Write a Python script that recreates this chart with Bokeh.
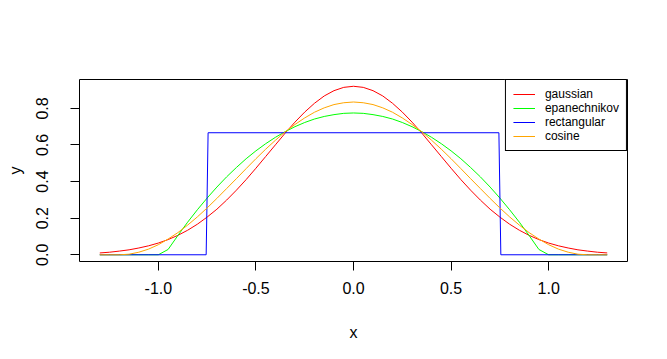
from bokeh.plotting import figure
from bokeh.models import Range1d, FixedTicker, PrintfTickFormatter, Legend, LegendItem
from bokeh.embed import file_html
from bokeh.resources import INLINE

# ---- data ----
x_grid = [-1.3, -1.25, -1.2, -1.15, -1.1, -1.05, -1.0, -0.95, -0.9, -0.85, -0.8, -0.75,
          -0.7, -0.65, -0.6, -0.55, -0.5, -0.45, -0.4, -0.35, -0.3, -0.25, -0.2, -0.15,
          -0.1, -0.05, 0.0, 0.05, 0.1, 0.15, 0.2, 0.25, 0.3, 0.35, 0.4, 0.45, 0.5, 0.55,
          0.6, 0.65, 0.7, 0.75, 0.8, 0.85, 0.9, 0.95, 1.0, 1.05, 1.1, 1.15, 1.2, 1.25, 1.3]

gaussian = [0.010, 0.014, 0.020, 0.027, 0.037, 0.049, 0.064, 0.083, 0.106, 0.134, 0.167, 0.206,
            0.249, 0.299, 0.353, 0.411, 0.473, 0.537, 0.601, 0.665, 0.725, 0.780, 0.828, 0.868,
            0.897, 0.915, 0.921, 0.915, 0.897, 0.868, 0.828, 0.780, 0.725, 0.665, 0.601, 0.537,
            0.473, 0.411, 0.353, 0.299, 0.249, 0.206, 0.167, 0.134, 0.106, 0.083, 0.064, 0.049,
            0.037, 0.027, 0.020, 0.014, 0.010]

epanechnikov = [0.0, 0.0, 0.0, 0.0, 0.0, 0.0, 0.0, 0.029, 0.105, 0.178, 0.246, 0.310,
                0.370, 0.426, 0.477, 0.525, 0.568, 0.607, 0.642, 0.673, 0.700, 0.723, 0.742, 0.756,
                0.766, 0.773, 0.775, 0.773, 0.766, 0.756, 0.742, 0.723, 0.700, 0.673, 0.642, 0.607,
                0.568, 0.525, 0.477, 0.426, 0.370, 0.310, 0.246, 0.178, 0.105, 0.029, 0.0, 0.0,
                0.0, 0.0, 0.0, 0.0, 0.0]

cosine = [0.0, 0.0, 0.0, 0.003, 0.014, 0.031, 0.055, 0.086, 0.121, 0.162, 0.207, 0.256,
          0.308, 0.362, 0.416, 0.471, 0.525, 0.577, 0.626, 0.672, 0.712, 0.748, 0.779, 0.803,
          0.821, 0.831, 0.835, 0.831, 0.821, 0.803, 0.779, 0.748, 0.712, 0.672, 0.626, 0.577,
          0.525, 0.471, 0.416, 0.362, 0.308, 0.256, 0.207, 0.162, 0.121, 0.086, 0.055, 0.031,
          0.014, 0.003, 0.0, 0.0, 0.0]

rect_x = [-1.3, -0.755, -0.745, 0.745, 0.755, 1.3]
rectangular = [0.0, 0.0, 0.667, 0.667, 0.0, 0.0]

series_names = ["gaussian", "epanechnikov", "rectangular", "cosine"]
series_colors = ["#FF0000", "#00FF00", "#0000FF", "#FFA500"]

x_ticks = [-1.0, -0.5, 0.0, 0.5, 1.0]
y_ticks = [0.0, 0.2, 0.4, 0.6, 0.8]

FONT = "Liberation Sans"

p = figure(width=651, height=343, output_backend="svg", toolbar_location=None,
           x_range=Range1d(-1.404, 1.404), y_range=Range1d(-0.0368, 0.958),
           min_border_left=79, min_border_right=24, min_border_top=79, min_border_bottom=81)
p.background_fill_color = "white"
p.border_fill_color = "white"
p.outline_line_color = "black"
p.outline_line_width = 1
p.grid.visible = False

r_g = p.line(x_grid, gaussian, line_color=series_colors[0], line_width=1)
r_e = p.line(x_grid, epanechnikov, line_color=series_colors[1], line_width=1)
r_r = p.line(rect_x, rectangular, line_color=series_colors[2], line_width=1)
r_c = p.line(x_grid, cosine, line_color=series_colors[3], line_width=1)

for ax, ticks in ((p.xaxis[0], x_ticks), (p.yaxis[0], y_ticks)):
    ax.ticker = FixedTicker(ticks=ticks)
    ax.formatter = PrintfTickFormatter(format="%.1f")
    ax.bounds = (ticks[0], ticks[-1])
    ax.axis_line_color = "black"
    ax.major_tick_in = 0
    ax.major_tick_out = 9
    ax.minor_tick_line_color = None
    ax.major_label_text_font = FONT
    ax.major_label_text_font_size = "16px"
    ax.major_label_text_color = "black"
    ax.axis_label_text_font = FONT
    ax.axis_label_text_font_size = "16px"
    ax.axis_label_text_font_style = "normal"
    ax.axis_label_text_color = "black"

p.xaxis.axis_label = "x"
p.yaxis.axis_label = "y"
p.xaxis.major_label_standoff = 11
p.xaxis.axis_label_standoff = 27
p.yaxis.major_label_orientation = "parallel"
p.yaxis.major_label_standoff = 22
p.yaxis.axis_label_standoff = 10

legend = Legend(items=[LegendItem(label=n, renderers=[r]) for n, r in
                       zip(series_names, [r_g, r_e, r_r, r_c])],
                location="top_right", margin=0, padding=7, spacing=0,
                glyph_width=22, glyph_height=14, label_height=14, label_standoff=10,
                label_text_font=FONT, label_text_font_size="12px", label_text_color="black",
                border_line_color="black", border_line_width=1, border_line_alpha=1,
                background_fill_color="white", background_fill_alpha=1)
p.add_layout(legend)

open("out.html", "w").write(file_html(p, INLINE))
